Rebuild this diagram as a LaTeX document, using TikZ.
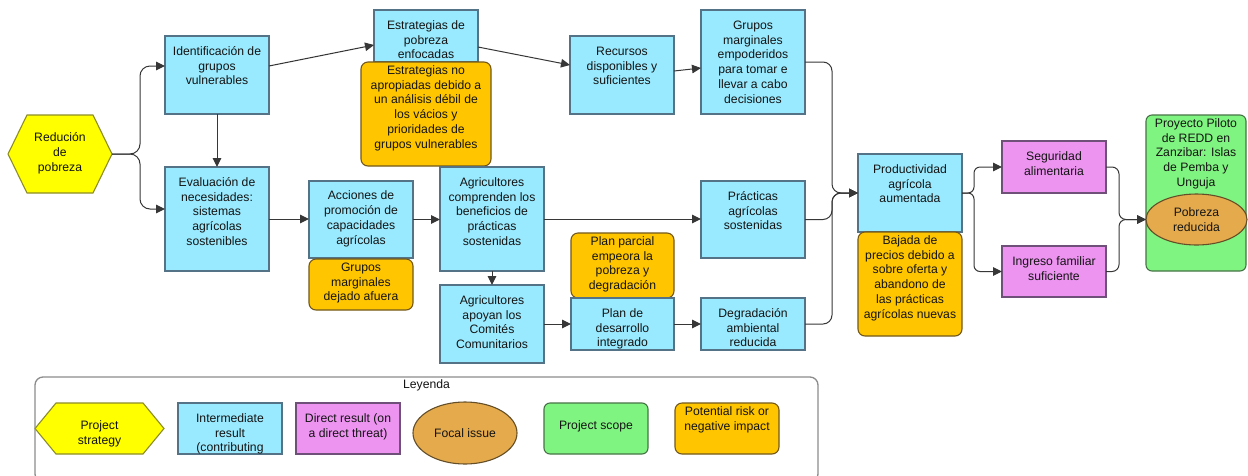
\documentclass[tikz,border=0pt]{standalone}
\usepackage{fontspec}
\setmainfont{Liberation Sans}
\usetikzlibrary{shapes.geometric,arrows.meta,backgrounds}

% palette
\definecolor{cyanfill}{RGB}{153,234,255}
\definecolor{cyanline}{RGB}{85,115,135}
\definecolor{riskfill}{RGB}{255,198,0}
\definecolor{riskline}{RGB}{115,88,25}
\definecolor{hexfill}{RGB}{255,255,0}
\definecolor{hexline}{RGB}{140,140,40}
\definecolor{pinkfill}{RGB}{236,148,240}
\definecolor{pinkline}{RGB}{110,80,120}
\definecolor{greenfill}{RGB}{128,244,128}
\definecolor{greenline}{RGB}{70,115,70}
\definecolor{focalfill}{RGB}{229,170,75}
\definecolor{focalline}{RGB}{100,78,40}
\definecolor{lineclr}{RGB}{55,55,55}
\definecolor{legline}{RGB}{140,140,140}
\definecolor{txt}{RGB}{20,20,20}

\newcommand{\dfont}{\fontsize{12.2pt}{14.8pt}\selectfont}
% fixed-size text block: width, height, top padding, lines
\newcommand{\tbox}[4]{\parbox[c][#2pt][t]{#1pt}{\centering\vspace*{#3pt}\strut#4\par}}

\tikzset{
  boxbase/.style={inner sep=0pt, outer sep=0pt, font=\dfont, text=txt, line width=1.1pt},
  cbox/.style={boxbase, draw=cyanline, fill=cyanfill},
  rbox/.style={boxbase, draw=riskline, fill=riskfill, rounded corners=7pt},
  pbox/.style={boxbase, draw=pinkline, fill=pinkfill},
  gbox/.style={boxbase, draw=greenline, fill=greenfill, rounded corners=6pt},
  focal/.style={boxbase, ellipse, draw=focalline, fill=focalfill, align=center},
  hexnode/.style={boxbase},
  hexshape/.style={draw=hexline, fill=hexfill, line width=1.1pt, line join=miter},
  legframe/.style={draw=legline, line width=1.3pt, rounded corners=8pt,
    minimum width=783pt, minimum height=105pt, inner sep=0pt},
  conn/.style={draw=lineclr, line width=1pt, -{Triangle[length=9pt,width=8.5pt]}},
}

\begin{document}
\begin{tikzpicture}[x=1pt,y=-1pt]
\useasboundingbox (0,0) rectangle (1248,475);

% ---- main chain ----
\node[hexnode] (rp) at (60,154) {\tbox{104}{78}{16.5}{Redución\\de\\pobreza}};
\node[cbox] (idg) at (217,75) {\tbox{104}{78}{9}{Identificación de\\grupos\\vulnerables}};
\node[cbox] (ev) at (217,219) {\tbox{104}{104}{9}{Evaluación de\\necesidades:\\sistemas\\agrícolas\\sostenibles}};
\node[cbox] (ee) at (426,36) {\tbox{104}{52}{9}{Estrategias de\\pobreza\\enfocadas}};
\node[rbox] (ena) at (426,114) {\tbox{130}{104}{2}{Estrategias no\\apropiadas debido a\\un análisis débil de\\los vácios y\\prioridades de\\grupos vulnerables}};
\node[cbox] (rec) at (622,75) {\tbox{104}{78}{9}{Recursos\\disponibles y\\suficientes}};
\node[cbox] (gme) at (753,62) {\tbox{104}{104}{9}{Grupos\\marginales\\empoderidos\\para tomar e\\llevar a cabo\\decisiones}};
\node[cbox] (acc) at (361,219.5) {\tbox{104}{77}{8.5}{Acciones de\\promoción de\\capacidades\\agrícolas}};
\node[rbox] (gma) at (361,284.5) {\tbox{104}{51}{2}{Grupos\\marginales\\dejado afuera}};
\node[cbox] (acm) at (492,219) {\tbox{104}{104}{9}{Agricultores\\comprenden los\\beneficios de\\prácticas\\sostenidas}};
\node[cbox] (apo) at (492,324) {\tbox{104}{78}{9}{Agricultores\\apoyan los\\Comités\\Comunitarios}};
\node[rbox] (ppa) at (622.5,265.5) {\tbox{103}{65}{2}{Plan parcial\\empeora la\\pobreza y\\degradación}};
\node[cbox] (pd) at (622.5,324) {\tbox{103}{52}{9}{Plan de\\desarrollo\\integrado}};
\node[cbox] (pra) at (753,219.5) {\tbox{104}{77}{9}{Prácticas\\agrícolas\\sostenidas}};
\node[cbox] (deg) at (753,324) {\tbox{104}{52}{9}{Degradación\\ambiental\\reducida}};
\node[cbox] (prod) at (910,193) {\tbox{104}{78}{9}{Productividad\\agrícola\\aumentada}};
\node[rbox] (baj) at (910,284) {\tbox{104}{104}{2}{Bajada de\\precios debido a\\sobre oferta y\\abandono de\\las prácticas\\agrícolas nuevas}};
\node[pbox] (seg) at (1054,167) {\tbox{104}{52}{9}{Seguridad\\alimentaria}};
\node[pbox] (ing) at (1054,271.5) {\tbox{104}{51}{9}{Ingreso familiar\\suficiente}};
\node[gbox] (proy) at (1196,193) {\tbox{100}{156}{2}{Proyecto Piloto\\de REDD en\\Zanzibar: Islas\\de Pemba y\\Unguja}};
\node[focal, minimum width=101pt, minimum height=51pt] (pr) at (1196.5,219.5) {Pobreza\\reducida};

% ---- connectors ----
\draw[conn, rounded corners=10pt] (rp.east) -- ++(28,0) |- ([yshift=9pt]idg.west);
\draw[conn, rounded corners=10pt] (rp.east) -- ++(28,0) |- ([yshift=10pt]ev.west);
\draw[conn] (idg.south) -- (ev.north);
\draw[conn] ([yshift=9pt]idg.east) -- ([yshift=-9pt]ee.west);
\draw[conn] ([yshift=-11pt]ee.east) -- ([yshift=10pt]rec.west);
\draw[conn] ([yshift=4pt]rec.east) -- ([yshift=-6pt]gme.west);
\draw[conn] (ev.east) -- (ev.east -| acc.west);
\draw[conn] (acc.east) -- (acc.east -| acm.west);
\draw[conn] (acm.east) -- (acm.east -| pra.west);
\draw[conn] (acm.south) -- (apo.north);
\draw[conn] (apo.east) -- (apo.east -| pd.west);
\draw[conn] (pd.east) -- (pd.east -| deg.west);
\draw[conn, rounded corners=9pt] (gme.east) -- ++(27,0) |- (prod.west);
\draw[conn, rounded corners=9pt] (pra.east) -- ++(27,0) |- (prod.west);
\draw[conn, rounded corners=9pt] (deg.east) -- ++(27,0) |- (prod.west);
\draw[conn, rounded corners=6pt] (prod.east) -- ++(12,0) |- (seg.west);
\draw[conn, rounded corners=6pt] (prod.east) -- ++(12,0) |- (ing.west);
\draw[conn, rounded corners=7pt] (seg.east) -- ++(13,0) |- (pr.west);
\draw[conn, rounded corners=7pt] (ing.east) -- ++(13,0) |- (pr.west);

% ---- legend ----
\node[legframe] (leg) at (426.5,429.5) {};
\node[anchor=base, font=\dfont, text=txt, inner sep=0pt] (legt) at ([yshift=-12pt]leg.north) {Leyenda};
\node[hexnode] (lhex) at (99.5,428.5) {\tbox{129}{51}{16.5}{Project\\strategy}};
\node[cbox] (lint) at (230,428.5) {\tbox{104}{51}{9}{Intermediate\\result\\(contributing}};
\node[pbox] (ldir) at (348,428.5) {\tbox{104}{51}{9}{Direct result (on\\a direct threat)}};
\node[focal, minimum width=104pt, minimum height=62pt] (lfoc) at (465,433) {Focal issue};
\node[gbox] (lsco) at (596,428.5) {\tbox{104}{51}{16.5}{Project scope}};
\node[rbox] (lrisk) at (727,428.5) {\tbox{104}{51}{2}{Potential risk or\\negative impact}};

% ---- page background and hexagon outlines ----
\begin{scope}[on background layer]
  \fill[white] (0,0) rectangle (1248,475);
  \foreach \h/\d in {rp/19, lhex/21} {
    \filldraw[hexshape] (\h.west) -- ([xshift=\d pt]\h.north west) -- ([xshift=-\d pt]\h.north east)
      -- (\h.east) -- ([xshift=-\d pt]\h.south east) -- ([xshift=\d pt]\h.south west) -- cycle;
  }
\end{scope}
\end{tikzpicture}
\end{document}
